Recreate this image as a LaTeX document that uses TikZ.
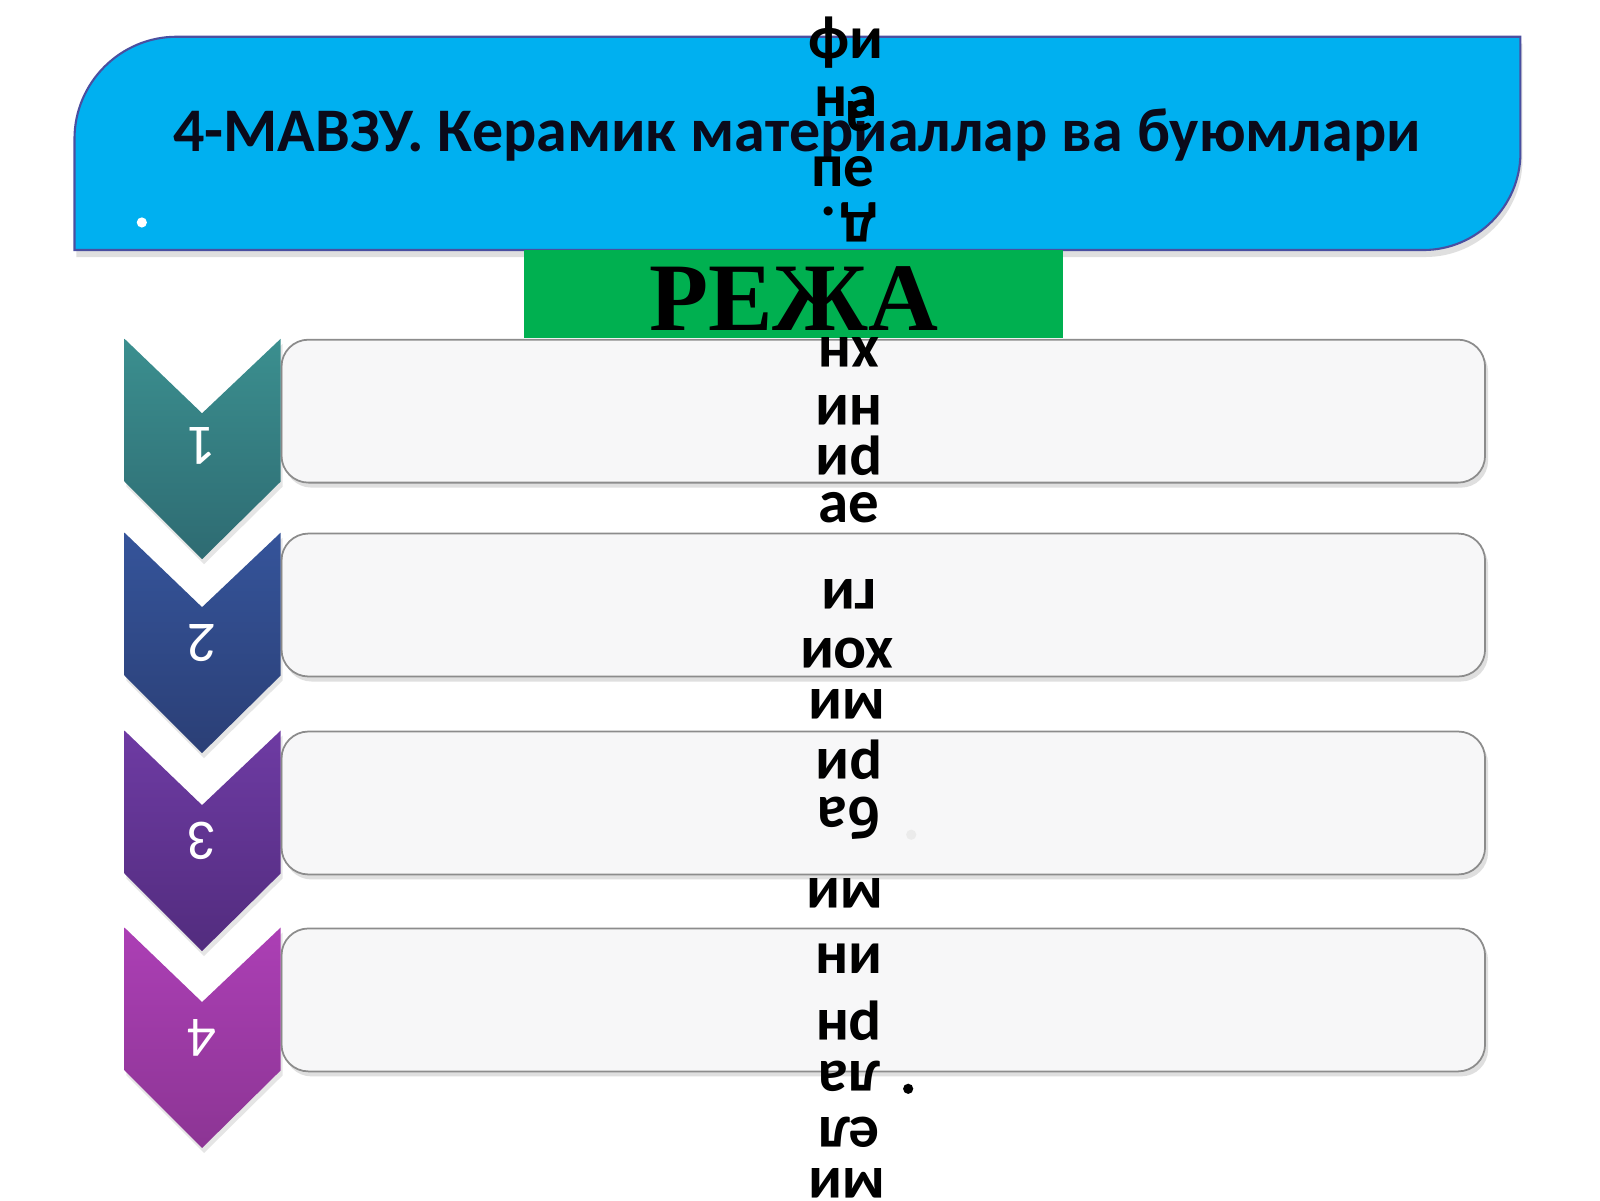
\documentclass[tikz,border=0pt]{standalone}
\usepackage{fontspec}
\setmainfont{Carlito}
\newfontfamily\serifx{Liberation Serif}
\newfontfamily\gfont{Carlito}
\usetikzlibrary{shadows}
\definecolor{banner}{HTML}{00B0F0}
\definecolor{bannerline}{HTML}{4A4FA0}
\definecolor{rezha}{HTML}{00B050}
\definecolor{rowfill}{HTML}{F7F7F8}
\definecolor{rowline}{HTML}{8C8C8C}
\definecolor{titlec}{HTML}{0A0A1A}
\tikzset{
  x=0.010204cm, y=-0.010204cm,
  rowbox/.style={draw=rowline, line width=0.5pt, fill=rowfill, rounded corners=0.27cm,
     drop shadow={shadow xshift=0.03cm, shadow yshift=-0.05cm, opacity=0.25}},
  numlab/.style={text=white, font=\fontsize{16.3}{16.3}\selectfont, rotate=180, inner sep=0pt},
  garb/.style={text=black, font=\gfont\bfseries\fontsize{17.35}{17.35}\selectfont, inner sep=0pt},
  garbr/.style={garb, rotate=180},
}
\begin{document}
\begin{tikzpicture}
\fill[white] (0,0) rectangle (1568,1176);
% banner
\path[fill=banner, draw=bannerline, line width=0.6pt,
  drop shadow={shadow xshift=0.02cm, shadow yshift=-0.07cm, opacity=0.25}]
  (73,245) -- (73,136) .. controls (73,81) and (118,36) .. (173,36)
  -- (1490,36) -- (1490,150) .. controls (1490,202) and (1447,245) .. (1395,245) -- cycle;
\node[text=titlec, font=\bfseries\fontsize{17.65}{17.65}\selectfont, inner sep=0pt] (title) at (781,132)
  {4-МАВЗУ. Керамик материаллар ва буюмлари};
\fill[white] (139,218) circle (5);
% РЕЖА
\fill[rezha] (514,245) rectangle (1042,331);
\node[font=\serifx\bfseries\fontsize{27.55}{27.55}\selectfont, text=black, inner sep=0pt] (rezha) at (778,293) {РЕЖА};
% rows
\foreach \i/\t in {1/332, 2/522, 3/716, 4/909}{
  \node[rowbox, minimum width=12.04cm, minimum height=1.43cm, anchor=north west] (row\i) at (275,\t) {};
}
\foreach \i/\t/\ca/\cb in {1/332/3B8F8F/2E6B72, 2/522/35549A/2B3F76, 3/716/6E3BA3/522C7E, 4/909/AC3FB5/8C3594}{
  \definecolor{ctop}{HTML}{\ca}\definecolor{cbot}{HTML}{\cb}
  \path[top color=ctop, bottom color=cbot, drop shadow={shadow xshift=0.02cm, shadow yshift=-0.05cm, opacity=0.2}]
    (122,\t) -- (198,\t+73) -- (275,\t) -- (275,\t+140) -- (198,\t+216) -- (122,\t+140) -- cycle;
}
\node[numlab] (n1) at (198,437) {1};
\node[numlab] (n2) at (198,630) {2};
\node[numlab] (n3) at (198,824) {3};
\node[numlab] (n4) at (198,1017) {4};
% garbled vertical text column
\node[garb]  (g1)  at (829,42)   {фи};
\node[garb]  (g2)  at (829,100)  {на};
\node[garbr] (g2b) at (843,114)  {а};
\node[garb]  (g3)  at (826,168)  {пе};
\node[garb]  (g4)  at (812,207)  {.};
\node[garbr] (g4b) at (842,218)  {д};
\node[garbr] (g5)  at (832,345)  {хн};
\node[garbr] (g6)  at (832,402)  {ни};
\node[garbr] (g7)  at (832,447)  {ри};
\node[garb]  (g8)  at (832,497)  {ае};
\node[garbr] (g9)  at (832,582)  {ги};
\node[garbr] (g10) at (830,640)  {хои};
\node[garbr] (g11) at (830,690)  {ми};
\node[garbr] (g12) at (832,745)  {ри};
\node[garbr] (g13) at (832,802)  {ба};
\node[garbr] (g14) at (828,875)  {ми};
\node[garb]  (g15) at (832,940)  {ни};
\node[garbr] (g16) at (832,1000) {рн};
\node[garbr] (g17) at (832,1055) {ла};
\node[garbr] (g18) at (832,1110) {ел};
\node[garbr] (g19) at (830,1160) {ми};
% bullets
\fill[black!8] (893,818) circle (5);
\fill[black] (890,1067) circle (5);
\pgfresetboundingbox
\useasboundingbox (0,0) rectangle (1568,1176);
\end{tikzpicture}
\end{document}
